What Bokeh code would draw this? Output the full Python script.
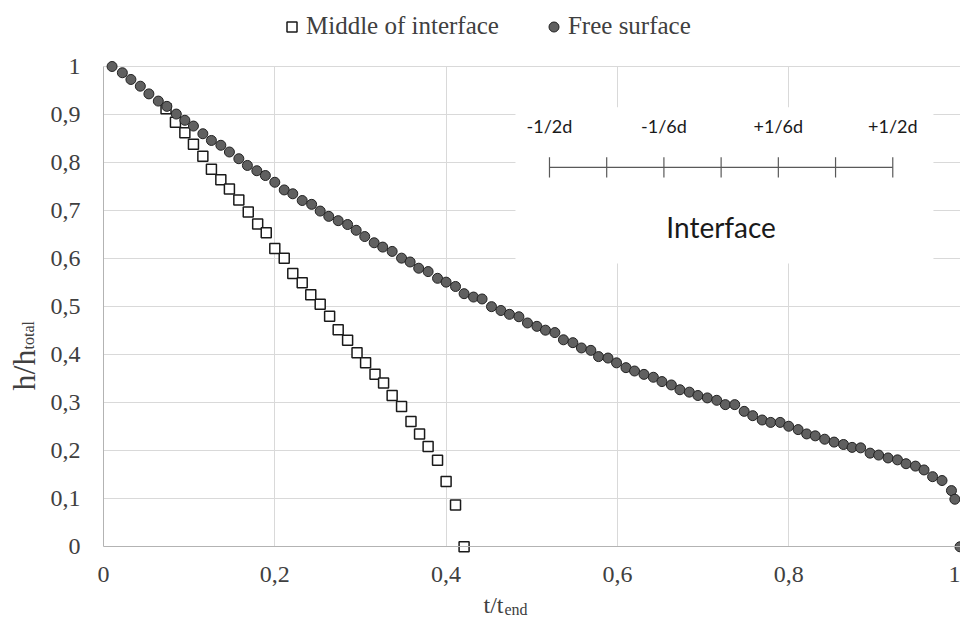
import math
from bokeh.plotting import figure
from bokeh.models import (Range1d, FixedTicker, Legend, LegendItem, Label,
                          CustomJSTickFormatter, Grid)
from bokeh.core.properties import value
from bokeh.embed import file_html
from bokeh.resources import INLINE

# ---------------- data ----------------
middle_t = [0.073, 0.084, 0.095, 0.105, 0.116, 0.126, 0.137, 0.147, 0.158, 0.169,
            0.180, 0.190, 0.200, 0.211, 0.221, 0.232, 0.242, 0.253, 0.264, 0.274,
            0.285, 0.296, 0.306, 0.317, 0.327, 0.337, 0.348, 0.359, 0.369, 0.379,
            0.390, 0.400, 0.411, 0.421]
middle_h = [0.912, 0.884, 0.862, 0.838, 0.813, 0.786, 0.764, 0.745, 0.722, 0.697,
            0.672, 0.654, 0.621, 0.601, 0.569, 0.550, 0.525, 0.505, 0.480, 0.452,
            0.430, 0.404, 0.383, 0.359, 0.341, 0.315, 0.292, 0.261, 0.235, 0.209,
            0.180, 0.136, 0.087, 0.000]

free_t = [0.010, 0.022, 0.032, 0.043, 0.053, 0.064, 0.074, 0.085, 0.095, 0.105,
          0.116, 0.126, 0.137, 0.147, 0.158, 0.168, 0.179, 0.189, 0.200, 0.211,
          0.221, 0.232, 0.243, 0.253, 0.263, 0.274, 0.285, 0.295, 0.305, 0.316,
          0.326, 0.337, 0.348, 0.358, 0.368, 0.379, 0.390, 0.400, 0.411, 0.421,
          0.432, 0.442, 0.453, 0.464, 0.474, 0.485, 0.495, 0.506, 0.516, 0.527,
          0.537, 0.548, 0.558, 0.569, 0.578, 0.589, 0.599, 0.610, 0.620, 0.631,
          0.642, 0.652, 0.663, 0.673, 0.684, 0.694, 0.705, 0.716, 0.726, 0.737,
          0.748, 0.758, 0.769, 0.779, 0.790, 0.800, 0.811, 0.821, 0.831, 0.842,
          0.853, 0.864, 0.874, 0.884, 0.895, 0.905, 0.916, 0.927, 0.937, 0.948,
          0.958, 0.968, 0.979, 0.990, 0.994, 1.000]
free_h = [1.000, 0.987, 0.973, 0.959, 0.943, 0.928, 0.917, 0.901, 0.888, 0.876,
          0.860, 0.846, 0.836, 0.822, 0.808, 0.794, 0.783, 0.773, 0.759, 0.743,
          0.735, 0.721, 0.713, 0.699, 0.688, 0.679, 0.671, 0.659, 0.646, 0.633,
          0.624, 0.615, 0.601, 0.593, 0.580, 0.573, 0.559, 0.551, 0.542, 0.527,
          0.520, 0.516, 0.500, 0.492, 0.484, 0.479, 0.466, 0.459, 0.451, 0.446,
          0.431, 0.425, 0.414, 0.409, 0.396, 0.393, 0.383, 0.373, 0.366, 0.359,
          0.353, 0.344, 0.337, 0.327, 0.322, 0.315, 0.310, 0.305, 0.296, 0.296,
          0.282, 0.273, 0.264, 0.259, 0.259, 0.251, 0.244, 0.235, 0.231, 0.224,
          0.218, 0.213, 0.207, 0.206, 0.195, 0.191, 0.185, 0.181, 0.173, 0.168,
          0.160, 0.146, 0.138, 0.117, 0.099, 0.000]

series_names = ["Middle of interface", "Free surface"]

x_ticks = [0, 0.2, 0.4, 0.6, 0.8, 1]
x_tick_labels = ["0", "0,2", "0,4", "0,6", "0,8", "1"]
y_ticks = [0, 0.1, 0.2, 0.3, 0.4, 0.5, 0.6, 0.7, 0.8, 0.9, 1]
y_tick_labels = ["0", "0,1", "0,2", "0,3", "0,4", "0,5", "0,6", "0,7", "0,8", "0,9", "1"]

x_title, x_title_sub = "t/t", "end"
y_title, y_title_sub = "h/h", "total"

# interface sketch (positions in units of d)
interface_ticks = [-1/2, -1/3, -1/6, 0, 1/6, 1/3, 1/2]
interface_label_pos = [-1/2, -1/6, 1/6, 1/2]
interface_labels = ["-1/2d", "-1/6d", "+1/6d", "+1/2d"]
interface_title = "Interface"

# ---------------- layout / style ----------------
SERIF = "Liberation Serif"
SANS = "Lato"
TXT = "#404040"
GRID = "#d9d9d9"

# the frame fills the whole canvas; the axes sit at t=0 and h=0
p = figure(width=960, height=621, output_backend="svg", toolbar_location=None,
           x_range=Range1d(-0.12026, 1.00058), y_range=Range1d(-0.15553, 1.13741),
           min_border_left=0, min_border_right=0, min_border_top=0,
           min_border_bottom=0)
p.outline_line_color = None
p.background_fill_color = "white"
p.border_fill_color = "white"

fmt_code = """
const i = tk.findIndex(t => Math.abs(t - tick) < 1e-9);
return i >= 0 ? lb[i] : '';
"""
p.xaxis.ticker = FixedTicker(ticks=x_ticks)
p.yaxis.ticker = FixedTicker(ticks=y_ticks)
p.xaxis.formatter = CustomJSTickFormatter(args=dict(tk=x_ticks, lb=x_tick_labels), code=fmt_code)
p.yaxis.formatter = CustomJSTickFormatter(args=dict(tk=y_ticks, lb=y_tick_labels), code=fmt_code)
p.xaxis.fixed_location = y_ticks[0]
p.yaxis.fixed_location = x_ticks[0]
p.xaxis.bounds = (x_ticks[0], x_ticks[-1])
p.yaxis.bounds = (y_ticks[0], y_ticks[-1])
for ax in (p.xaxis, p.yaxis):
    ax.axis_line_color = "#b3b3b3"
    ax.axis_line_width = 1
    ax.major_tick_line_color = None
    ax.minor_tick_line_color = None
    ax.major_tick_out = 0
    ax.major_tick_in = 0
    ax.major_label_text_font = SERIF
    ax.major_label_text_font_size = "24px"
    ax.major_label_text_color = TXT
p.xaxis.major_label_standoff = 20
p.yaxis.major_label_standoff = 23

# grid lines limited to the plotting area
if "cross_bounds" in Grid.properties():
    p.xgrid.ticker = FixedTicker(ticks=x_ticks[1:])
    p.ygrid.ticker = FixedTicker(ticks=y_ticks[1:])
    p.xgrid.cross_bounds = (y_ticks[0], y_ticks[-1])
    p.ygrid.cross_bounds = (x_ticks[0], x_ticks[-1])
    for g in (p.xgrid, p.ygrid):
        g.grid_line_color = GRID
        g.grid_line_width = 1
else:
    p.grid.visible = False
    p.segment(x0=x_ticks[1:], y0=[y_ticks[0]] * (len(x_ticks) - 1),
              x1=x_ticks[1:], y1=[y_ticks[-1]] * (len(x_ticks) - 1),
              line_color=GRID, line_width=1)
    p.segment(x0=[x_ticks[0]] * (len(y_ticks) - 1), y0=y_ticks[1:],
              x1=[x_ticks[-1]] * (len(y_ticks) - 1), y1=y_ticks[1:],
              line_color=GRID, line_width=1)

# white box for the interface sketch (covers the grid)
box_left, box_right, box_bottom, box_top = 0.481, 0.969, 0.590, 0.915
p.quad(left=[box_left], right=[box_right], bottom=[box_bottom], top=[box_top],
       fill_color="white", line_color=None)

ix_center, ix_scale = 0.7211, 0.4008
iy_line, itick_half = 0.790, 0.021
tick_xs = [ix_center + t * ix_scale for t in interface_ticks]
p.segment(x0=[tick_xs[0]], y0=[iy_line], x1=[tick_xs[-1]], y1=[iy_line],
          line_color="#595959", line_width=1.2)
p.segment(x0=tick_xs, y0=[iy_line - itick_half] * len(tick_xs),
          x1=tick_xs, y1=[iy_line + itick_half] * len(tick_xs),
          line_color="#595959", line_width=1.2)
p.text(x=[ix_center + t * ix_scale for t in interface_label_pos],
       y=[0.8767] * len(interface_label_pos), text=interface_labels,
       text_font=value(SANS), text_font_size="18px", text_align="center",
       text_baseline="alphabetic", text_color="#1a1a1a")
p.text(x=[ix_center], y=[0.665], text=[interface_title],
       text_font=value(SANS), text_font_size="28px", text_align="center",
       text_baseline="alphabetic", text_color="#1a1a1a")

# series
sq = p.scatter(middle_t, middle_h, marker="square", size=10,
               fill_color="white", line_color="#1a1a1a", line_width=1.5)
ci = p.scatter(free_t, free_h, marker="circle", size=10,
               fill_color="#606060", line_color="#222222", line_width=1)

legend = Legend(items=[LegendItem(label=series_names[0], renderers=[sq]),
                       LegendItem(label=series_names[1], renderers=[ci])],
                orientation="horizontal", location=(279, 581),
                padding=0, margin=0, spacing=42,
                glyph_width=25, glyph_height=25, label_standoff=2,
                label_text_font=SERIF, label_text_font_size="25px",
                label_text_color=TXT, border_line_color=None,
                background_fill_alpha=0)
p.add_layout(legend)

# axis titles with subscripts
p.add_layout(Label(x=-0.0934, y=0.3254, text=y_title, angle=math.pi / 2,
                   text_font=SERIF, text_font_size="32px", text_color=TXT,
                   text_align="left", text_baseline="alphabetic"))
p.add_layout(Label(x=-0.0876, y=0.4108, text=y_title_sub, angle=math.pi / 2,
                   text_font=SERIF, text_font_size="16px", text_color=TXT,
                   text_align="left", text_baseline="alphabetic"))
p.add_layout(Label(x=0.4437, y=-0.1222, text=x_title,
                   text_font=SERIF, text_font_size="24px", text_color=TXT,
                   text_align="left", text_baseline="alphabetic"))
p.add_layout(Label(x=0.4682, y=-0.1305, text=x_title_sub,
                   text_font=SERIF, text_font_size="16px", text_color=TXT,
                   text_align="left", text_baseline="alphabetic"))

open("out.html", "w").write(file_html(p, INLINE))
